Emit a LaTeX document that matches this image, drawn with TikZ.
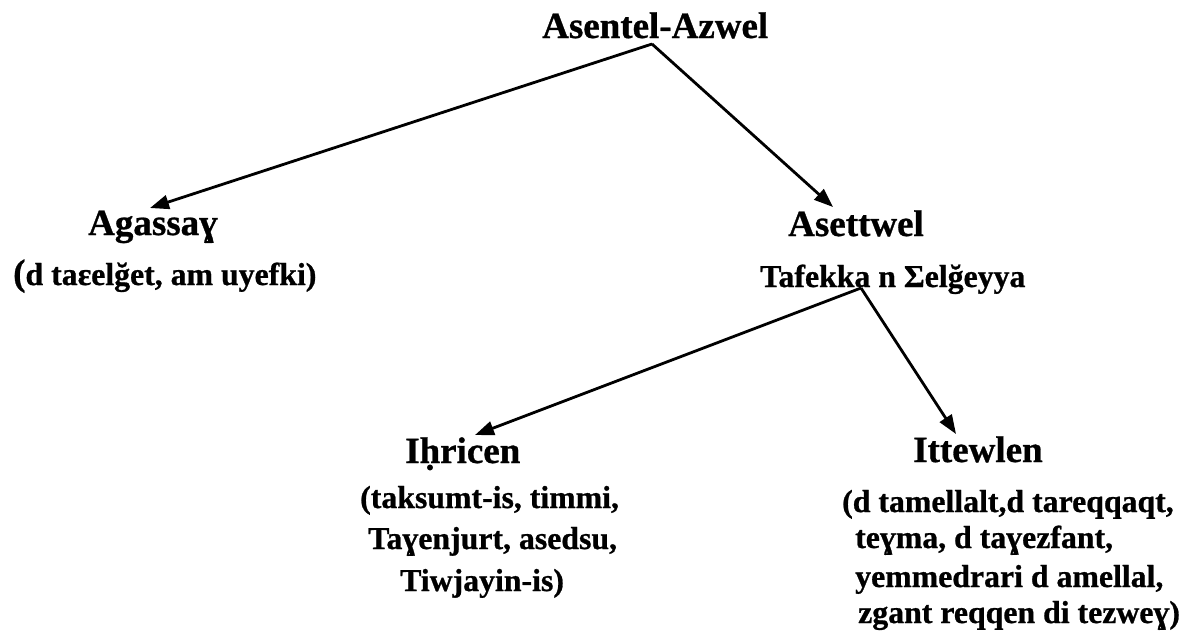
\documentclass[tikz,border=0pt]{standalone}
\usepackage{fontspec}
\setmainfont{Liberation Serif}[BoldFeatures={FakeBold=0.8}]
\usetikzlibrary{arrows.meta}
\begin{document}
\begin{tikzpicture}[x=1pt,y=-1pt,
  head/.style={anchor=base west,inner sep=0pt,font=\bfseries\fontsize{37}{40}\selectfont},
  sub/.style={anchor=base west,inner sep=0pt,font=\bfseries\fontsize{31.8}{36}\selectfont},
  link/.style={line width=2.8pt,-{Triangle[length=19pt,width=14pt]}}]
\useasboundingbox (0,0) rectangle (1183,638);
% headings
\node[head] (root) at (542,38) {Asentel-Azwel};
\node[head] (agassay) at (88,235) {Agassaɣ};
\node[sub] (agassaydesc) at (13,285) {{\fontsize{37}{40}\selectfont(}d taɛelğet, am uyefki)};
\node[head] (asettwel) at (788,236) {Asettwel};
\node[sub] (tafekka) at (760,287) {Tafekka n Σelğeyya};
\node[head] (ihricen) at (405,463) {Iḥricen};
\node[sub] (ih1) at (360,508) {(taksumt-is, timmi,};
\node[sub] (ih2) at (368,549) {Taɣenjurt, asedsu,};
\node[sub] (ih3) at (400,591) {Tiwjayin-is)};
\node[head] (ittewlen) at (913,462) {Ittewlen};
\node[sub] (it1) at (842,512) {(d tamellalt,d tareqqaqt,};
\node[sub] (it2) at (855,548) {teɣma, d taɣezfant,};
\node[sub] (it3) at (855,587) {yemmedrari d amellal,};
\node[sub] (it4) at (858,623) {zgant reqqen di tezweɣ)};
% connectors
\coordinate (apex1) at (652,44);
\coordinate (tip1) at (150,208);
\coordinate (tip2) at (833,207);
\coordinate (apex2) at (861,288);
\coordinate (tip3) at (475,435);
\coordinate (tip4) at (956,434);
\draw[link] (apex1) -- (tip1);
\draw[link] (apex1) -- (tip2);
\draw[link] (apex2) -- (tip3);
\draw[link] (apex2) -- (tip4);
\end{tikzpicture}
\end{document}
